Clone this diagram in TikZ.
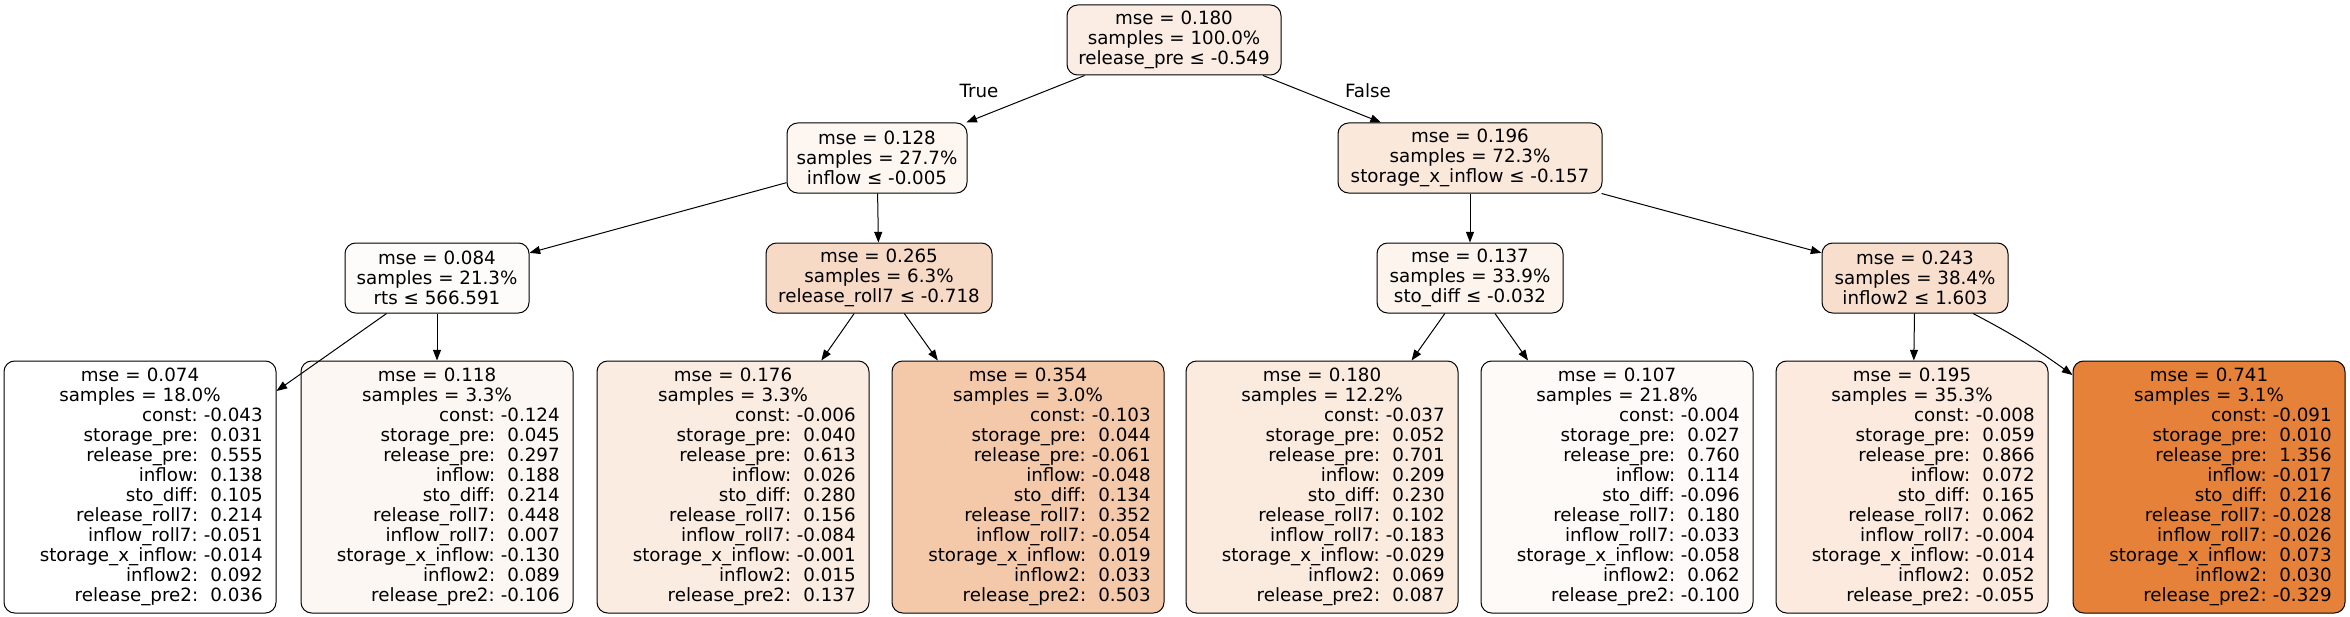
\documentclass[tikz,border=0pt]{standalone}
\usepackage{fontspec}
\setmainfont{DejaVu Sans}
\usetikzlibrary{arrows.meta}

\definecolor{treeorange}{RGB}{229,129,57}
\newcommand{\treefont}{\frenchspacing\fontsize{13.7}{15}\selectfont}
\newcommand{\ctrline}[1]{\makebox[\linewidth]{#1}}

\begin{document}
\begin{tikzpicture}[x=0.75pt, y=-0.75pt, >={Stealth[inset=0pt, length=8pt, width=6pt]},
        split/.style={draw, rounded corners=8pt, line width=0.75pt, align=center, inner sep=0pt, minimum height=52.5pt, font=\treefont},
        leaf/.style={draw, rounded corners=8pt, line width=0.75pt, align=right, text width=184pt, inner xsep=10pt, inner ysep=0pt, minimum height=189pt, font=\treefont},
        edge/.style={->, line width=0.75pt}]
    \useasboundingbox (0,0) rectangle (2350,617);
    % Split nodes
    \node[split, fill=treeorange!14!white, minimum width=160.5pt] (root) at (1174,40) {mse = 0.180\\samples = 100.0\%\\release\_pre ≤ -0.549};
    \node[split, fill=treeorange!7!white, minimum width=135pt] (nl) at (877,158) {mse = 0.128\\samples = 27.7\%\\inflow ≤ -0.005};
    \node[split, fill=treeorange!18!white, minimum width=198pt] (nr) at (1470,158) {mse = 0.196\\samples = 72.3\%\\storage\_x\_inflow ≤ -0.157};
    \node[split, fill=treeorange!2!white, minimum width=138pt] (nll) at (437,278) {mse = 0.084\\samples = 21.3\%\\rts ≤ 566.591};
    \node[split, fill=treeorange!29!white, minimum width=169.5pt] (nlr) at (879,278) {mse = 0.265\\samples = 6.3\%\\release\_roll7 ≤ -0.718};
    \node[split, fill=treeorange!9!white, minimum width=139.5pt] (nrl) at (1470,278) {mse = 0.137\\samples = 33.9\%\\sto\_diff ≤ -0.032};
    \node[split, fill=treeorange!26!white, minimum width=139.5pt] (nrr) at (1915,278) {mse = 0.243\\samples = 38.4\%\\inflow2 ≤ 1.603};
    % Leaves
    \node[leaf, fill=white] (lll) at (140,487) {\ctrline{mse = 0.074}\\\ctrline{samples = 18.0\%}\\const: -0.043\\storage\_pre: \ 0.031\\release\_pre: \ 0.555\\inflow: \ 0.138\\sto\_diff: \ 0.105\\release\_roll7: \ 0.214\\inflow\_roll7: -0.051\\storage\_x\_inflow: -0.014\\inflow2: \ 0.092\\release\_pre2: \ 0.036};
    \node[leaf, fill=treeorange!6!white] (llr) at (437,487) {\ctrline{mse = 0.118}\\\ctrline{samples = 3.3\%}\\const: -0.124\\storage\_pre: \ 0.045\\release\_pre: \ 0.297\\inflow: \ 0.188\\sto\_diff: \ 0.214\\release\_roll7: \ 0.448\\inflow\_roll7: \ 0.007\\storage\_x\_inflow: -0.130\\inflow2: \ 0.089\\release\_pre2: -0.106};
    \node[leaf, fill=treeorange!15!white] (lrl) at (733,487) {\ctrline{mse = 0.176}\\\ctrline{samples = 3.3\%}\\const: -0.006\\storage\_pre: \ 0.040\\release\_pre: \ 0.613\\inflow: \ 0.026\\sto\_diff: \ 0.280\\release\_roll7: \ 0.156\\inflow\_roll7: -0.084\\storage\_x\_inflow: -0.001\\inflow2: \ 0.015\\release\_pre2: \ 0.137};
    \node[leaf, fill=treeorange!43!white] (lrr) at (1028,487) {\ctrline{mse = 0.354}\\\ctrline{samples = 3.0\%}\\const: -0.103\\storage\_pre: \ 0.044\\release\_pre: -0.061\\inflow: -0.048\\sto\_diff: \ 0.134\\release\_roll7: \ 0.352\\inflow\_roll7: -0.054\\storage\_x\_inflow: \ 0.019\\inflow2: \ 0.033\\release\_pre2: \ 0.503};
    \node[leaf, fill=treeorange!16!white] (rll) at (1322,487) {\ctrline{mse = 0.180}\\\ctrline{samples = 12.2\%}\\const: -0.037\\storage\_pre: \ 0.052\\release\_pre: \ 0.701\\inflow: \ 0.209\\sto\_diff: \ 0.230\\release\_roll7: \ 0.102\\inflow\_roll7: -0.183\\storage\_x\_inflow: -0.029\\inflow2: \ 0.069\\release\_pre2: \ 0.087};
    \node[leaf, fill=treeorange!4!white] (rlr) at (1617,487) {\ctrline{mse = 0.107}\\\ctrline{samples = 21.8\%}\\const: -0.004\\storage\_pre: \ 0.027\\release\_pre: \ 0.760\\inflow: \ 0.114\\sto\_diff: -0.096\\release\_roll7: \ 0.180\\inflow\_roll7: -0.033\\storage\_x\_inflow: -0.058\\inflow2: \ 0.062\\release\_pre2: -0.100};
    \node[leaf, fill=treeorange!17!white] (rrl) at (1912,487) {\ctrline{mse = 0.195}\\\ctrline{samples = 35.3\%}\\const: -0.008\\storage\_pre: \ 0.059\\release\_pre: \ 0.866\\inflow: \ 0.072\\sto\_diff: \ 0.165\\release\_roll7: \ 0.062\\inflow\_roll7: -0.004\\storage\_x\_inflow: -0.014\\inflow2: \ 0.052\\release\_pre2: -0.055};
    \node[leaf, fill=treeorange] (rrr) at (2209,487) {\ctrline{mse = 0.741}\\\ctrline{samples = 3.1\%}\\const: -0.091\\storage\_pre: \ 0.010\\release\_pre: \ 1.356\\inflow: -0.017\\sto\_diff: \ 0.216\\release\_roll7: -0.028\\inflow\_roll7: -0.026\\storage\_x\_inflow: \ 0.073\\inflow2: \ 0.030\\release\_pre2: -0.329};
    % Edges
    \draw[edge] (root) -- (nl);
    \draw[edge] (root) -- (nr);
    \draw[edge] (nl) -- (nll);
    \draw[edge] (nl) -- (nlr);
    \draw[edge] (nr) -- (nrl);
    \draw[edge] (nr) -- (nrr);
    \draw[edge] (nll) -- (lll);
    \draw[edge] (nll) -- (llr);
    \draw[edge] (nlr) -- (lrl);
    \draw[edge] (nlr) -- (lrr);
    \draw[edge] (nrl) -- (rll);
    \draw[edge] (nrl) -- (rlr);
    \draw[edge] (nrr) -- (rrl);
    \draw[edge] (nrr) to[bend left=4] (rrr);
    \node[font=\treefont] (yes) at (979,91) {True};
    \node[font=\treefont] (no) at (1368,91) {False};
\end{tikzpicture}
\end{document}
